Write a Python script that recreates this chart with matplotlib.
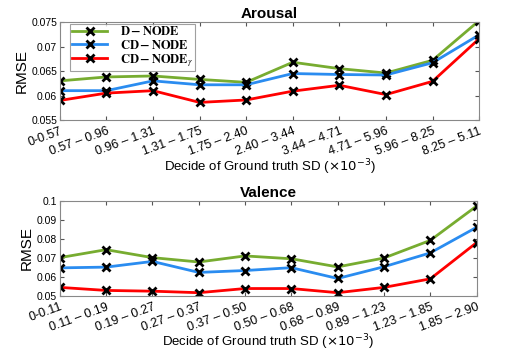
import matplotlib
matplotlib.use("Agg")
import matplotlib.pyplot as plt

plt.rcParams['font.family'] = ['Liberation Sans', 'DejaVu Sans']
plt.rcParams['mathtext.fontset'] = 'stix'

# arousal data
arousal_bins = ['0-0.57', '0.57 – 0.96', '0.96 – 1.31', '1.31 – 1.75', '1.75 – 2.40',
                '2.40 – 3.44', '3.44 – 4.71', '4.71 – 5.96', '5.96 – 8.25', '8.25 – 5.11']
arousal_dnode = [0.0630, 0.0638, 0.0640, 0.0633, 0.0627, 0.0668, 0.0655, 0.0646, 0.0672, 0.0753]
arousal_cdnode = [0.0610, 0.0610, 0.0630, 0.0622, 0.0622, 0.0645, 0.0643, 0.0642, 0.0667, 0.0724]
arousal_cdnode_g = [0.0590, 0.0605, 0.0610, 0.0586, 0.0591, 0.0609, 0.0621, 0.0602, 0.0629, 0.0716]

# valence data
valence_bins = ['0-0.11', '0.11 – 0.19', '0.19 – 0.27', '0.27 – 0.37', '0.37 – 0.50',
                '0.50 – 0.68', '0.68 – 0.89', '0.89 – 1.23', '1.23 – 1.85', '1.85 – 2.90']
valence_dnode = [0.0700, 0.0742, 0.0700, 0.0677, 0.0709, 0.0694, 0.0651, 0.0698, 0.0791, 0.0972]
valence_cdnode = [0.0646, 0.0650, 0.0680, 0.0622, 0.0632, 0.0647, 0.0590, 0.0652, 0.0725, 0.0860]
valence_cdnode_g = [0.0543, 0.0527, 0.0523, 0.0515, 0.0537, 0.0537, 0.0515, 0.0543, 0.0588, 0.0779]

labels = [r'$\mathbf{D-NODE}$', r'$\mathbf{CD-NODE}$', r'$\mathbf{CD-NODE}_{\gamma}$']
colors = ['#77AC30', '#2A8CF0', '#FF0000']

fig = plt.figure(figsize=(5.07, 3.51), dpi=100)
ax1 = fig.add_axes([0.118, 0.658, 0.827, 0.279])
ax2 = fig.add_axes([0.118, 0.158, 0.822, 0.270])


def draw(ax, bins, series, title, yticks, yticklabels, legend=False):
    x = list(range(len(bins)))
    for s, c, lab in zip(series, colors, labels):
        ax.plot(x, s, color=c, lw=2, marker='x', mec='black', mew=2, ms=6, label=lab)
    ax.set_xlim(0, len(bins) - 1)
    ax.set_ylim(yticks[0], yticks[-1])
    ax.set_yticks(yticks)
    ax.set_yticklabels(yticklabels, fontsize=7.5)
    ax.set_xticks(x)
    ax.set_xticklabels(bins, rotation=20, ha='right', rotation_mode='anchor', fontsize=9)
    ax.tick_params(direction='in', top=True, right=True, length=3, color='#555555', pad=2)
    ax.tick_params(axis='x', pad=4)
    for sp in ax.spines.values():
        sp.set_color('#888888')
        sp.set_linewidth(0.8)
    ax.set_ylabel('RMSE', fontsize=11, labelpad=2)
    ax.set_xlabel(r'Decide of Ground truth SD ($\times10^{-3}$)', fontsize=9.5, labelpad=-1,
                  math_fontfamily='dejavusans')
    ax.set_title(title, fontsize=11, fontweight='bold', pad=3)
    if legend:
        leg = ax.legend(loc='upper left', fontsize=9, frameon=True, fancybox=False,
                        edgecolor='#888888', handlelength=2.8, handletextpad=1.0,
                        borderpad=0.15, labelspacing=0.02, borderaxespad=0,
                        bbox_to_anchor=(0.025, 0.985))
        leg.get_frame().set_linewidth(0.8)


draw(ax1, arousal_bins, [arousal_dnode, arousal_cdnode, arousal_cdnode_g], 'Arousal',
     [0.055, 0.06, 0.065, 0.07, 0.075], ['0.055', '0.06', '0.065', '0.07', '0.075'], legend=True)
draw(ax2, valence_bins, [valence_dnode, valence_cdnode, valence_cdnode_g], 'Valence',
     [0.05, 0.06, 0.07, 0.08, 0.09, 0.1], ['0.05', '0.06', '0.07', '0.08', '0.09', '0.1'])

fig.savefig('out.png', dpi=100)
